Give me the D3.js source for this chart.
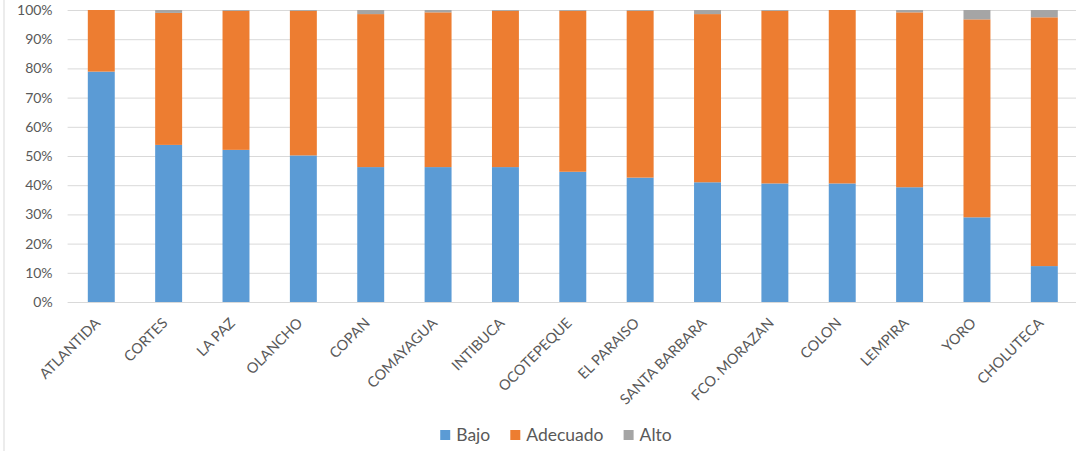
<!DOCTYPE html>
<html>
<head>
<meta charset="utf-8">
<script src="https://cdn.jsdelivr.net/npm/d3@7/dist/d3.min.js"></script>
<style>
  html, body { margin: 0; padding: 0; background: #fff; }
  svg { display: block; font-family: Lato, "Open Sans", sans-serif; }
</style>
</head>
<body>
<svg id="chart" width="1076" height="451"></svg>
<script>
// Departments, ordered by share in the "Bajo" level
const departamentos = ["ATLANTIDA", "CORTES", "LA PAZ", "OLANCHO", "COPAN", "COMAYAGUA", "INTIBUCA",
  "OCOTEPEQUE", "EL PARAISO", "SANTA BARBARA", "FCO. MORAZAN", "COLON", "LEMPIRA", "YORO", "CHOLUTECA"];

// Percentage of each level per department
const bajo     = [78.9, 53.8, 52.1, 50.2, 46.2, 46.2, 46.2, 44.6, 42.6, 41.0, 40.6, 40.6, 39.3, 29.0, 12.3];
const adecuado = [21.1, 45.2, 47.6, 49.5, 52.4, 53.0, 53.5, 55.1, 57.1, 57.6, 59.1, 59.4, 59.9, 67.8, 85.2];
const alto     = [0.0, 1.0, 0.3, 0.3, 1.4, 0.8, 0.3, 0.3, 0.3, 1.4, 0.3, 0.0, 0.8, 3.2, 2.5];

const series = ["Bajo", "Adecuado", "Alto"];
const colores = ["#5B9BD5", "#ED7D31", "#A5A5A5"];
const yTicks = [0, 10, 20, 30, 40, 50, 60, 70, 80, 90, 100];

const tabla = departamentos.map((d, i) => ({ dep: d, Bajo: bajo[i], Adecuado: adecuado[i], Alto: alto[i] }));

const svg = d3.select("#chart");
const margin = { left: 67.6, right: -2, top: 10, bottom: 149 };
const W = 1076, H = 451;

const x = d3.scaleBand().domain(departamentos)
  .range([margin.left, W - margin.right]).paddingInner(0.6).paddingOuter(0.3);
const y = d3.scaleLinear().domain([0, 100]).range([H - margin.bottom, margin.top]);

// chart frame edge on the left
svg.append("line").attr("x1", 4).attr("x2", 4).attr("y1", 0).attr("y2", H)
  .attr("stroke", "#d9d9d9").attr("stroke-width", 1);

// gridlines and y labels
const yAxis = d3.axisLeft(y).tickValues(yTicks).tickFormat(d => d + "%")
  .tickSize(-(W - margin.left)).tickPadding(15);
const gy = svg.append("g").attr("transform", `translate(${margin.left},0)`).call(yAxis);
gy.select(".domain").remove();
gy.selectAll(".tick line").attr("stroke", "#d9d9d9").attr("stroke-width", 1);
gy.selectAll(".tick text").attr("fill", "#595959").style("font-size", "14px")
  .style("font-family", "Lato, 'Open Sans', sans-serif");

// stacked bars
const stack = d3.stack().keys(series)(tabla);
svg.append("g").selectAll("g").data(stack).join("g")
  .attr("fill", (d, i) => colores[i])
  .selectAll("rect").data(d => d).join("rect")
  .attr("x", d => x(d.data.dep))
  .attr("width", x.bandwidth())
  .attr("y", d => y(d[1]))
  .attr("height", d => y(d[0]) - y(d[1]));

// category axis
const xAxis = d3.axisBottom(x).tickSize(0).tickPadding(0);
const gx = svg.append("g").attr("transform", `translate(0,${y(0)})`).call(xAxis);
gx.select(".domain").attr("stroke", "#d9d9d9");
gx.selectAll(".tick text")
  .attr("fill", "#595959").style("font-size", "14.5px")
  .style("font-family", "Lato, 'Open Sans', sans-serif")
  .attr("text-anchor", "end")
  .attr("dy", 0).attr("y", 0)
  .attr("transform", "translate(0,22) rotate(-45)");

// legend
const leg = svg.append("g").attr("transform", "translate(0,435)");
const items = leg.selectAll("g").data(series).join("g");
items.append("rect").attr("width", 10).attr("height", 10).attr("y", -5)
  .attr("fill", (d, i) => colores[i]);
items.append("text").attr("x", 16).attr("dy", "0.35em").attr("fill", "#595959")
  .style("font-size", "17.5px").text(d => d);
let widths = [];
items.each(function () { widths.push(this.getBBox().width); });
const gap = 20;
const total = d3.sum(widths) + gap * (widths.length - 1);
let cx = 556 - total / 2;
items.each(function (d, i) {
  d3.select(this).attr("transform", `translate(${cx},0)`);
  cx += widths[i] + gap;
});
</script>
</body>
</html>
